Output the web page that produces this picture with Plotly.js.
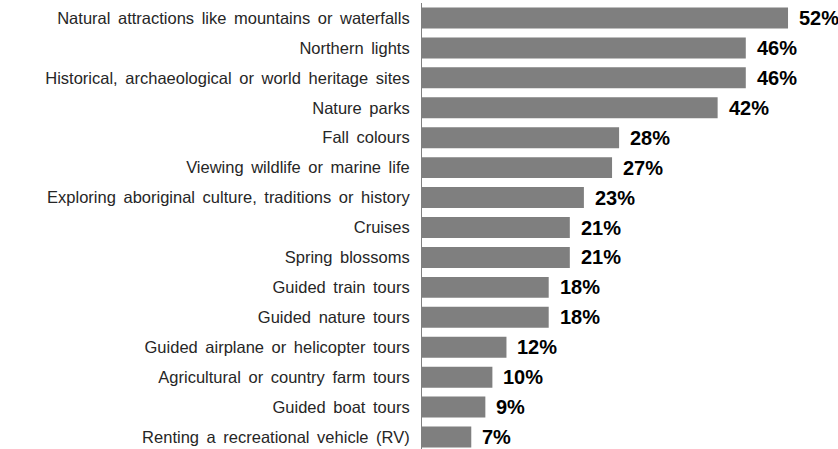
<!DOCTYPE html>
<html>
<head>
<meta charset="utf-8">
<script src="https://cdn.plot.ly/plotly-3.0.1.min.js"></script>
<style>
html,body{margin:0;padding:0;background:#fff;}
#chart{width:838px;height:449px;}
.ytick text{word-spacing:3px;}
</style>
</head>
<body>
<div id="chart"></div>
<script>
var categories = [
  "Natural attractions like mountains or waterfalls",
  "Northern lights",
  "Historical, archaeological or world heritage sites",
  "Nature parks",
  "Fall colours",
  "Viewing wildlife or marine life",
  "Exploring aboriginal culture, traditions or history",
  "Cruises",
  "Spring blossoms",
  "Guided train tours",
  "Guided nature tours",
  "Guided airplane or helicopter tours",
  "Agricultural or country farm tours",
  "Guided boat tours",
  "Renting a recreational vehicle (RV)"
];
var values = [52, 46, 46, 42, 28, 27, 23, 21, 21, 18, 18, 12, 10, 9, 7];
var valueLabels = ["52%","46%","46%","42%","28%","27%","23%","21%","21%","18%","18%","12%","10%","9%","7%"];

var trace = {
  type: "bar",
  orientation: "h",
  x: values,
  y: categories,
  marker: {color: "#7f7f7f", line: {width: 0}},
  hoverinfo: "none"
};

var annotations = values.map(function(v, i){
  return {
    x: v, y: categories[i], xref: "x", yref: "y",
    text: valueLabels[i], showarrow: false,
    xanchor: "left", yanchor: "middle", xshift: 9,
    font: {family: "Liberation Sans, Arial, sans-serif", size: 20, color: "#000", weight: "bold"}
  };
});

var layout = {
  width: 838, height: 449,
  margin: {l: 422, r: 0, t: 3, b: 0, pad: 0},
  paper_bgcolor: "#fff", plot_bgcolor: "#fff",
  showlegend: false,
  bargap: 0.3,
  xaxis: {range: [0, 59.1], showgrid: false, zeroline: false, showticklabels: false, showline: false, ticks: ""},
  yaxis: {
    categoryorder: "array", categoryarray: categories,
    range: [14.4, -0.5],
    showgrid: false, zeroline: false,
    showline: true, linecolor: "#808080", linewidth: 1,
    ticks: "", ticklabelstandoff: 8,
    tickfont: {family: "Liberation Sans, Arial, sans-serif", size: 16.5, color: "#262626"}
  },
  annotations: annotations
};

Plotly.newPlot("chart", [trace], layout, {displayModeBar: false, staticPlot: true});
</script>
</body>
</html>
